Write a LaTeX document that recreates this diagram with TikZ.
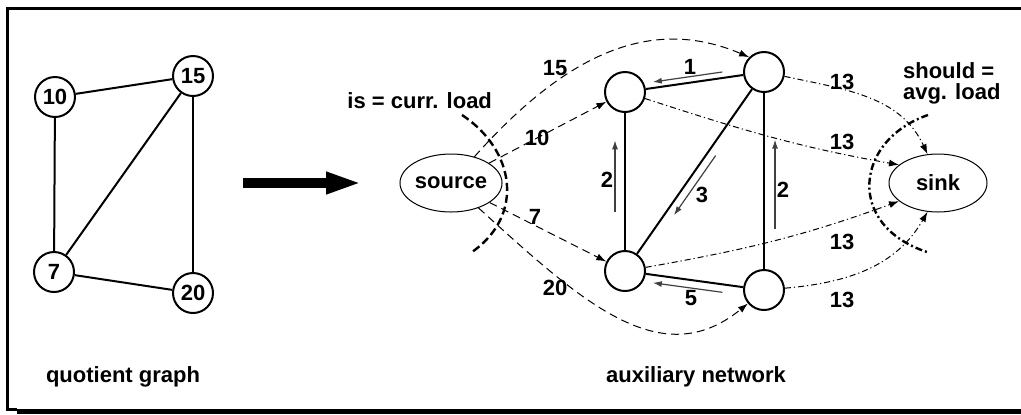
\documentclass[tikz,border=0pt]{standalone}
\usepackage{fontspec}
\setmainfont{Liberation Sans}
\usetikzlibrary{positioning,arrows.meta,shapes.geometric,calc}

\begin{document}
\begin{tikzpicture}[
    x=0.5pt, y=-0.5pt,
    font=\fontsize{11}{12}\selectfont\bfseries,
    vert/.style={draw, circle, line width=1pt, minimum size=20pt, inner sep=0pt},
    term/.style={draw, ellipse, line width=0.5pt, minimum width=49pt, minimum height=29pt, inner sep=0pt},
    link/.style={line width=1pt},
    farr/.style={-{Latex[length=4.5pt,width=3pt]}, line width=0.6pt, black!75},
    darr/.style={-{Latex[length=5pt,width=3.5pt]}, line width=0.5pt, dash pattern=on 4pt off 2.5pt},
    ddarr/.style={-{Latex[length=5pt,width=3.5pt]}, line width=0.5pt, dash pattern=on 3pt off 1.5pt on 0.6pt off 1.5pt},
    cutd/.style={line width=1.2pt, dash pattern=on 4pt off 2pt},
    cutdd/.style={line width=1.2pt, dash pattern=on 3.5pt off 1.5pt on 1pt off 1.5pt}
]
\useasboundingbox (0,0) rectangle (1021,414);
\draw[line width=1.5pt] (1022,8.5) -- (7,8.5) -- (7,409.5) -- (17,409.5);
\fill (17,409) rectangle (1021,414);

\node[vert] (q10) at (55,97) {10};
\node[vert] (q15) at (193,76) {15};
\node[vert] (q7) at (54,272) {7};
\node[vert] (q20) at (193,293) {20};
\node (qlbl) at (123,377) {quotient graph};

\draw[link] (q10) -- (q15);
\draw[link] (q10) -- (q7);
\draw[link] (q15) -- (q7);
\draw[link] (q15) -- (q20);
\draw[link] (q7) -- (q20);

\coordinate (ta) at (243,183);
\coordinate (tb) at (362,183);
\draw[line width=5pt, -{Triangle[length=18pt,width=10pt]}] (ta) -- (tb);

\node[term] (src) at (451,183) {source};
\node[term] (snk) at (938,183) {sink};
\node[vert] (nA) at (625,92) {};
\node[vert] (nB) at (764,72) {};
\node[vert] (nC) at (625,271) {};
\node[vert] (nD) at (764,290) {};
\node (aux) at (696,377) {auxiliary network};

\draw[link] (nA) -- (nB);
\draw[link] (nA) -- (nC);
\draw[link] (nB) -- (nC);
\draw[link] (nB) -- (nD);
\draw[link] (nC) -- (nD);

\draw[farr] ($(nB)!0.3!(nA)+(0,-6)$) -- ($(nB)!0.8!(nA)+(0,-6)$);
\draw[farr] ($(nC)!0.33!(nA)+(-10,0)$) -- ($(nC)!0.73!(nA)+(-10,0)$);
\draw[farr] ($(nB)!0.42!(nC)+(10,0)$) -- ($(nB)!0.72!(nC)+(10,0)$);
\draw[farr] ($(nD)!0.28!(nB)+(11,0)$) -- ($(nD)!0.69!(nB)+(11,0)$);
\draw[farr] ($(nD)!0.3!(nC)+(0,8)$) -- ($(nD)!0.8!(nC)+(0,8)$);
\node (f1) at (690,67) {1};
\node (f2a) at (607,180) {2};
\node (f3) at (702,195) {3};
\node (f2b) at (783,190) {2};
\node (f5) at (691,298) {5};

\draw[darr] (src) .. controls (565,55) and (650,15) .. (nB.135);
\draw[darr] (src) -- (nA);
\draw[darr] (src) -- (nC);
\draw[darr] (src) .. controls (580,300) and (660,375) .. (nD.220);
\node (s15) at (555,68) {15};
\node (s10) at (537,138) {10};
\node (s7) at (535,217) {7};
\node (s20) at (555,288) {20};

\draw[ddarr] (nB) to[out=-12,in=115] (snk.110);
\draw[ddarr] (nA) to[out=-18,in=170] (snk.155);
\draw[ddarr] (nC) to[out=10,in=200] (snk.205);
\draw[ddarr] (nD) to[out=5,in=240] (snk.250);
\node (t1) at (842,82) {13};
\node (t2) at (842,142) {13};
\node (t3) at (842,242) {13};
\node (t4) at (842,300) {13};

\draw[cutd] (462,115) .. controls (515,150) and (525,215) .. (472,252);
\draw[cutdd] (928,115) .. controls (855,140) and (845,225) .. (927,252);
\node[anchor=east] (isl) at (499,101) {is = curr. load};
\node[anchor=west, align=left] (shl) at (896,83) {should =\\[-1.5pt]avg. load};
\end{tikzpicture}
\end{document}
